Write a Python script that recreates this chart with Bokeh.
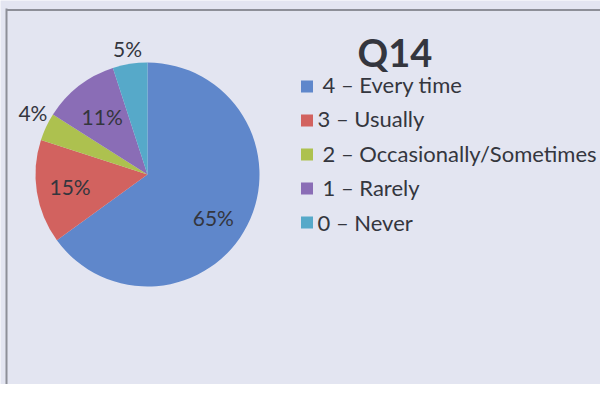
import math
from bokeh.plotting import figure
from bokeh.models import Range1d, ColumnDataSource
from bokeh.core.properties import value
from bokeh.embed import file_html
from bokeh.resources import INLINE

title = "Q14"
categories = ["4 – Every time", "3 – Usually", "2 – Occasionally/Sometimes", "1 – Rarely", "0 – Never"]
percents = [65, 15, 4, 11, 5]
colors = ["#5f87cb", "#d2625f", "#adc14f", "#8a6db6", "#56a9c9"]

BG = "#e3e5f1"
TXT = "#34363e"
W, H = 600, 384

p = figure(width=W, height=H, output_backend="svg", toolbar_location=None,
           x_range=Range1d(0, W), y_range=Range1d(400 - H, 400),
           min_border=0, background_fill_color=BG, border_fill_color=BG,
           outline_line_color=None)
p.axis.visible = False
p.grid.visible = False

# frame lines of the photographed page
p.segment(x0=[6, 6], y0=[400 - 9.5, 400 - 8], x1=[W, 6], y1=[400 - 9.5, 400 - H],
          line_color="#8d8f98", line_width=2)

# pie
cx, cy, r = 147, 400 - 174, 112
total = sum(percents)
starts, ends, mids = [], [], []
cum = 0.0
for v in percents:
    a0 = math.pi / 2 - 2 * math.pi * cum / total
    cum += v
    a1 = math.pi / 2 - 2 * math.pi * cum / total
    starts.append(a0)
    ends.append(a1)
    mids.append((a0 + a1) / 2)

src = ColumnDataSource(dict(start=starts, end=ends, color=colors))
p.wedge(x=cx, y=cy, radius=r, start_angle="start", end_angle="end", direction="clock",
        fill_color="color", line_color=None, source=src)

# data labels: radial placement plus small nudges (pixels)
label_k = [0.70, 0.70, 1.17, 0.66, 1.14]
nudge_x = [-4, 0, 4, 0, 0]
nudge_y = [-7, 0, 6, 0, 0]
lx = [cx + r * k * math.cos(m) + dx for k, m, dx in zip(label_k, mids, nudge_x)]
ly = [cy + r * k * math.sin(m) + dy for k, m, dy in zip(label_k, mids, nudge_y)]
p.text(x=lx, y=ly, text=[f"{v}%" for v in percents], text_align="center",
       text_baseline="middle", text_font=value("Lato"), text_font_size="21px",
       text_color=TXT)

# title
p.text(x=[394.5], y=[400 - 51.5], text=[title], text_align="center", text_baseline="middle",
       text_font=value("Lato"), text_font_size="38px", text_font_style="bold", text_color=TXT)

# legend
n = len(categories)
sq_y = [400 - (86 + 34 * i) for i in range(n)]
p.scatter(x=[306.5] * n, y=sq_y, marker="square", size=12,
          fill_color=colors, line_color=None)
text_x = [322, 317, 322, 322, 317]
text_y = [400 - (83.5 + 34.5 * i) for i in range(n)]
p.text(x=text_x, y=text_y, text=categories, text_align="left", text_baseline="middle",
       text_font=value("Lato"), text_font_size="22px", text_color=TXT)

html = file_html(p, INLINE)
html = html.replace("<body>", '<body style="background-color:%s">' % BG, 1)
open("out.html", "w").write(html)
